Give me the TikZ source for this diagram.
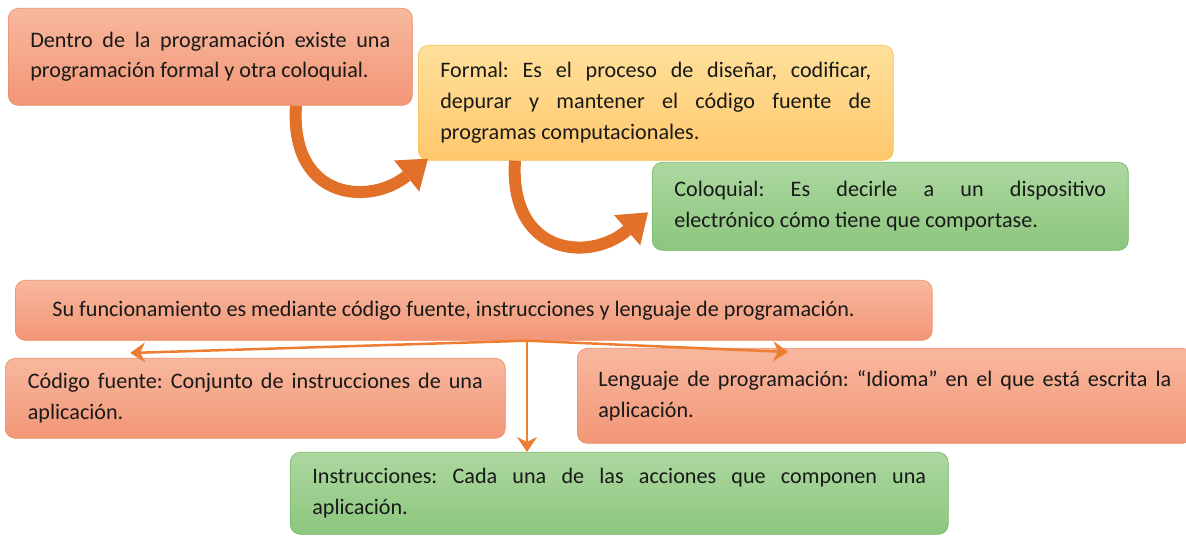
\documentclass[tikz,border=0pt]{standalone}
\usepackage{fontspec}
\setmainfont{Carlito}
\usepackage{xcolor}
\usepackage{tikz}
\usetikzlibrary{arrows.meta,calc}

\definecolor{salmonTop}{RGB}{248,184,158}
\definecolor{salmonBot}{RGB}{242,150,118}
\definecolor{salmonLine}{RGB}{238,140,105}
\definecolor{sunTop}{RGB}{255,224,155}
\definecolor{sunBot}{RGB}{255,200,108}
\definecolor{sunLine}{RGB}{250,190,90}
\definecolor{leafTop}{RGB}{172,216,160}
\definecolor{leafBot}{RGB}{140,198,125}
\definecolor{leafLine}{RGB}{120,185,105}
\definecolor{arrowOrange}{RGB}{237,125,49}
\definecolor{bendOrange}{RGB}{226,112,40}

\newcommand{\jline}[1]{\makebox[\hsize][s]{#1}}
\frenchspacing

\begin{document}
\begin{tikzpicture}[
    x=0.02cm, y=-0.02cm,
    box/.style={rectangle, draw, rounded corners=0.2cm, anchor=north west, align=justify, inner xsep=0.44cm, inner ysep=0pt, font=\fontsize{12.6}{17.5}\selectfont, text=black!90},
    peach/.style={box, top color=salmonTop, bottom color=salmonBot, draw=salmonLine},
    sun/.style={box, top color=sunTop, bottom color=sunBot, draw=sunLine},
    leaf/.style={box, top color=leafTop, bottom color=leafBot, draw=leafLine},
    link/.style={-{Stealth[length=0.3cm, width=0.4cm, inset=0.1cm]}, line width=0.05cm, draw=arrowOrange},
    curvearrow/.style={-{Triangle[length=0.55cm, width=0.8cm, line width=0pt]}, line width=0.24cm, draw=bendOrange}
]
\useasboundingbox (0,0) rectangle (1186,536);

% Programacion formal y coloquial
\node[peach, text width=7.2cm, minimum height=1.94cm] (intro) at (8,8) {\jline{Dentro de la programación existe una}\\programación formal y otra coloquial.};
\node[sun, text width=8.62cm, minimum height=2.3cm] (formal) at (418,45) {\jline{Formal: Es el proceso de diseñar, codificar,}\\\jline{depurar y mantener el código fuente de}\\programas computacionales.};
\node[leaf, text width=8.64cm, minimum height=1.76cm] (coloq) at (652,162) {\jline{Coloquial: Es decirle a un dispositivo}\\electrónico cómo tiene que comportase.};

\draw[curvearrow] ([xshift=5.76cm]intro.south west) .. controls +(-6,95) and +(-58,47) .. ([xshift=0.2cm,yshift=0.04cm]formal.south west);
\draw[curvearrow] ([xshift=1.94cm]formal.south west) .. controls +(-6,95) and +(-58,50) .. ([xshift=-0.08cm,yshift=-0.12cm]coloq.west);

% Funcionamiento
\node[peach, inner xsep=0.74cm, text width=16.86cm, minimum height=1.2cm] (func) at (15,280) {Su funcionamiento es mediante código fuente, instrucciones y lenguaje de programación.};
\node[peach, inner xsep=0.45cm, text width=9.1cm, minimum height=1.6cm] (code) at (5,358) {\jline{Código fuente: Conjunto de instrucciones de una}\\aplicación.};
\node[peach, inner xsep=0.42cm, text width=11.46cm, minimum height=1.9cm] (lang) at (577,348) {\jline{Lenguaje de programación: “Idioma” en el que está escrita la}\\aplicación.};
\node[leaf, text width=12.28cm, minimum height=1.64cm] (instr) at (290,452) {\jline{Instrucciones: Cada una de las acciones que componen una}\\aplicación.};

\coordinate (hub) at ($(func.south west)+(512,0)$);
\draw[link] (hub) -- ([yshift=0.1cm]$(code.north west)!0.25!(code.north east)$);
\draw[link] (hub) -- ([yshift=-0.08cm]$(lang.north west)!0.343!(lang.north east)$);
\draw[link] (hub) -- (hub |- instr.north);

\end{tikzpicture}
\end{document}
